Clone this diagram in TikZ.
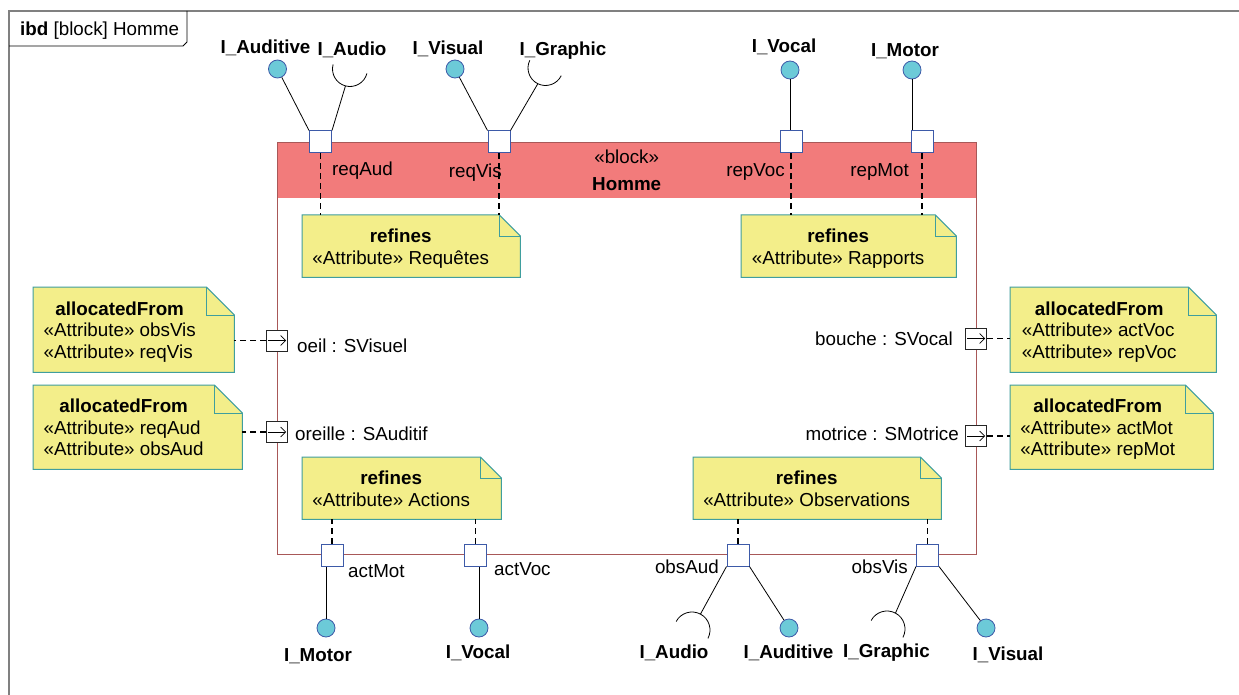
\documentclass[tikz,border=0pt]{standalone}
\usepackage{fontspec}
\setmainfont{Liberation Sans}
\usetikzlibrary{positioning,calc,arrows.meta,backgrounds}
\definecolor{sysframe}{HTML}{808080}
\definecolor{sysblock}{HTML}{A85858}
\definecolor{syshead}{HTML}{F27B7B}
\definecolor{sysport}{HTML}{3D5AA8}
\definecolor{sysball}{HTML}{6CCAD8}
\definecolor{sysnote}{HTML}{F3EE8A}
\definecolor{sysnoteline}{HTML}{3F9E9E}
% note outline: node, ear size
\newcommand\foldnote[2]{%
  \begin{scope}[on background layer]
    \filldraw[fill=sysnote, draw=sysnoteline, line width=1pt] (#1.south west) -- (#1.north west) -- (#1.north east) -- ([xshift=#2pt, yshift=-#2pt]#1.north east) -- ([xshift=#2pt]#1.south east) -- cycle;
  \end{scope}
  \draw[sysnoteline, line width=1pt] (#1.north east) |- ([xshift=#2pt, yshift=-#2pt]#1.north east);}
\newcommand\notetext[2]{\begin{tabular}{@{}l@{}}\multicolumn{1}{@{}c@{}}{\rule{0pt}{21pt}\bfseries #1}\\#2\end{tabular}}

\begin{document}
\begin{tikzpicture}[
  x=1pt, y=-1pt, font=\fontsize{18.8}{21.5}\selectfont, >={Straight Barb[length=5pt,width=10pt]},
  port/.style={draw=sysport, fill=white, line width=1pt, minimum size=22pt, inner sep=0pt},
  flowport/.style={port, draw=black!85, minimum size=21pt},
  ball/.style={circle, draw=sysport, fill=sysball, line width=0.8pt, minimum size=18pt, inner sep=0pt},
  ifc/.style={font=\fontsize{18.8}{21.5}\selectfont\bfseries, inner sep=0pt},
  plab/.style={inner sep=0pt},
  note/.style={inner sep=0pt, anchor=north west},
  wire/.style={draw=black, line width=0.8pt},
  socket/.style={draw=black, line width=0.8pt},
  trace/.style={draw=black, dash pattern=on 6pt off 4pt, line width=1.5pt}]
\useasboundingbox (0,0) rectangle (1239,695);
\begin{scope}[on background layer]
  \fill[white] (0,0) rectangle (1239,695);
\end{scope}
% frame
\draw[sysframe, line width=2pt] (9,695) -- (9,11) -- (1239,11);
\node[plab, anchor=west] (title) at (20,31) {\textbf{ibd} [block] Homme};
\draw[line width=0.8pt] (9,46) -- (183,46) -- (187,42) -- (187,11);
% block
\node[fill=syshead, minimum width=699pt, minimum height=56pt, anchor=north west, inner sep=0pt, align=center] (hdr) at (277,142) {«block»\\[5pt]\textbf{Homme}};
\node[draw=sysblock, line width=1.4pt, minimum width=699pt, minimum height=412pt, anchor=north west, inner sep=0pt] (homme) at (277,142) {};
% ports
\node[port] (pReqAud) at (320.5,142) {};
\node[port] (pReqVis) at (499,142) {};
\node[port] (pRepVoc) at (791,142) {};
\node[port] (pRepMot) at (922,142) {};
\node[port] (pActMot) at (332,555) {};
\node[port] (pActVoc) at (475.5,555) {};
\node[port] (pObsAud) at (738,555) {};
\node[port] (pObsVis) at (927.5,555) {};
\node[flowport] (pOeil) at (277,340.5) {};
\node[flowport] (pOreille) at (277,432) {};
\node[flowport] (pBouche) at (976,338.5) {};
\node[flowport] (pMotrice) at (976,436) {};
\draw[->, line width=0.6pt] ([xshift=2pt]pOeil.west) -- ([xshift=-2pt]pOeil.east);
\draw[->, line width=0.6pt] ([xshift=2pt]pOreille.west) -- ([xshift=-2pt]pOreille.east);
\draw[->, line width=0.6pt] ([xshift=2pt]pBouche.west) -- ([xshift=-2pt]pBouche.east);
\draw[->, line width=0.6pt] ([xshift=2pt]pMotrice.west) -- ([xshift=-2pt]pMotrice.east);
% port names
\node[plab, anchor=west] (lReqAud) at (332,171) {reqAud};
\node[plab, anchor=east] (lReqVis) at (502,173) {reqVis};
\node[plab, anchor=east] (lRepVoc) at (785,172) {repVoc};
\node[plab, anchor=east] (lRepMot) at (909,172) {repMot};
\node[plab, anchor=west] (lActMot) at (348,571) {actMot};
\node[plab, anchor=west] (lActVoc) at (494,569) {actVoc};
\node[plab, anchor=east] (lObsAud) at (719,567) {obsAud};
\node[plab, anchor=east] (lObsVis) at (908,567) {obsVis};
\node[plab, right=9pt of pOeil, yshift=-5pt] (lOeil) {oeil : SVisuel};
\node[plab, right=7pt of pOreille, yshift=-2pt] (lOreille) {oreille : SAuditif};
\node[plab, left=12pt of pBouche] (lBouche) {bouche : SVocal};
\node[plab, left=6pt of pMotrice, yshift=2pt] (lMotrice) {motrice : SMotrice};
% provided interfaces
\node[ball] (bAudiT) at (277.5,69) {};
\node[ball] (bVisT) at (455,69) {};
\node[ball] (bVocT) at (790,70) {};
\node[ball] (bMotT) at (912,70) {};
\node[ball] (bMotB) at (326,628) {};
\node[ball] (bVocB) at (479,628) {};
\node[ball] (bAudiB) at (789,628) {};
\node[ball] (bVisB) at (986,628) {};
% required interfaces
\draw[socket] ([shift={(195:17.5)}]350,69) arc[start angle=195, end angle=15, radius=17.5];
\coordinate (sAudT) at ($(350,69)+(105:17.5)$);
\draw[socket] ([shift={(206:17.5)}]545.5,68) arc[start angle=206, end angle=26, radius=17.5];
\coordinate (sGraT) at ($(545.5,68)+(116:17.5)$);
\draw[socket] ([shift={(28:18)}]692,630) arc[start angle=28, end angle=-152, radius=18];
\coordinate (sAudB) at ($(692,630)+(-62:18)$);
\draw[socket] ([shift={(28:18)}]887,629) arc[start angle=28, end angle=-152, radius=18];
\coordinate (sGraB) at ($(887,629)+(-62:18)$);
% wires
\draw[wire] (bAudiT) -- (pReqAud.north west);
\draw[wire] (sAudT) -- (pReqAud.north east);
\draw[wire] (bVisT) -- (pReqVis.north west);
\draw[wire] (sGraT) -- (pReqVis.north east);
\draw[wire] (bVocT) -- (bVocT |- pRepVoc.north);
\draw[wire] (bMotT) -- (bMotT |- pRepMot.north);
\draw[wire] (bMotB) -- (bMotB |- pActMot.south);
\draw[wire] (bVocB) -- (bVocB |- pActVoc.south);
\draw[wire] (sAudB) -- (pObsAud.south west);
\draw[wire] (bAudiB) -- (pObsAud.south east);
\draw[wire] (sGraB) -- (pObsVis.south west);
\draw[wire] (bVisB) -- (pObsVis.south east);
% interface names
\node[ifc] (iAudiT) at (265.5,48) {I\_Auditive};
\node[ifc] (iAudT) at (352,50) {I\_Audio};
\node[ifc] (iVisT) at (448,49) {I\_Visual};
\node[ifc] (iGraT) at (563,51) {I\_Graphic};
\node[ifc] (iVocT) at (784,47) {I\_Vocal};
\node[ifc] (iMotT) at (905,51) {I\_Motor};
\node[ifc] (iMotB) at (318,656) {I\_Motor};
\node[ifc] (iVocB) at (478,653) {I\_Vocal};
\node[ifc] (iAudB) at (674,653) {I\_Audio};
\node[ifc] (iAudiB) at (788.5,653) {I\_Auditive};
\node[ifc] (iGraB) at (886.5,653) {I\_Graphic};
\node[ifc] (iVisB) at (1008,655) {I\_Visual};
% notes
\node[note, minimum width=197pt, minimum height=62pt] (nReq) at (302,215) {\notetext{refines}{«Attribute» Requêtes}};
\foldnote{nReq}{21}
\node[note, minimum width=194pt, minimum height=62pt] (nRap) at (741,215) {\notetext{refines}{«Attribute» Rapports}};
\foldnote{nRap}{21}
\node[note, minimum width=178pt, minimum height=62pt] (nAct) at (302,457) {\notetext{refines}{«Attribute» Actions}};
\foldnote{nAct}{21}
\node[note, minimum width=227pt, minimum height=62pt] (nObs) at (693,457) {\notetext{refines}{«Attribute» Observations}};
\foldnote{nObs}{21}
\node[note, minimum width=173pt, minimum height=85pt] (nAlV) at (33,287) {\notetext{allocatedFrom}{«Attribute» obsVis\\«Attribute» reqVis}};
\foldnote{nAlV}{28}
\node[note, minimum width=181pt, minimum height=84pt] (nAlA) at (33,385) {\notetext{allocatedFrom}{«Attribute» reqAud\\«Attribute» obsAud}};
\foldnote{nAlA}{28}
\node[note, minimum width=178pt, minimum height=85pt] (nAlVoc) at (1010,287) {\notetext{allocatedFrom}{«Attribute» actVoc\\«Attribute» repVoc}};
\foldnote{nAlVoc}{28}
\node[note, minimum width=175pt, minimum height=84pt] (nAlMot) at (1010,385) {\notetext{allocatedFrom}{«Attribute» actMot\\«Attribute» repMot}};
\foldnote{nAlMot}{28}
% traces
\draw[trace] (pReqAud.south) -- (pReqAud.south |- nReq.north);
\draw[trace] (pReqVis.south) -- (pReqVis.south |- nReq.north);
\draw[trace] (pRepVoc.south) -- (pRepVoc.south |- nRap.north);
\draw[trace] (pRepMot.south) -- (pRepMot.south |- nRap.north);
\draw[trace] (pActMot.north) -- (pActMot.north |- nAct.south);
\draw[trace] (pActVoc.north) -- (pActVoc.north |- nAct.south);
\draw[trace] (pObsAud.north) -- (pObsAud.north |- nObs.south);
\draw[trace] (pObsVis.north) -- (pObsVis.north |- nObs.south);
\draw[trace] (pOeil.west) -- ($(pOeil.west -| nAlV.east)+(28,0)$);
\draw[trace] (pOreille.west) -- ($(pOreille.west -| nAlA.east)+(28,0)$);
\draw[trace] (pBouche.east) -- (pBouche.east -| nAlVoc.west);
\draw[trace] (pMotrice.east) -- (pMotrice.east -| nAlMot.west);
\end{tikzpicture}
\end{document}
